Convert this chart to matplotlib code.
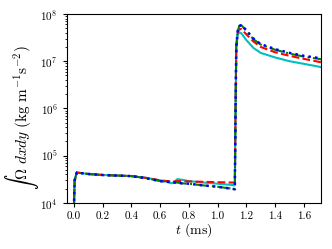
import numpy as np
import matplotlib
matplotlib.use("Agg")
import matplotlib.pyplot as plt

plt.rcParams['font.family'] = 'serif'
plt.rcParams['font.serif'] = ['cmr10']
plt.rcParams['mathtext.fontset'] = 'cm'
plt.rcParams['axes.formatter.use_mathtext'] = True
plt.rcParams['font.size'] = 10

t = [0.0, 0.005, 0.02, 0.1, 0.2, 0.3, 0.4, 0.5, 0.6, 0.65, 0.68, 0.7, 0.72,
     0.75, 0.8, 0.9, 1.0, 1.1, 1.12, 1.125, 1.13, 1.14, 1.15, 1.165, 1.2,
     1.25, 1.3, 1.4, 1.5, 1.6, 1.72]

cyan = [8e3, 3e4, 4.4e4, 4.1e4, 3.9e4, 3.8e4, 3.7e4, 3.4e4, 3.0e4, 2.8e4,
        2.6e4, 2.8e4, 3.2e4, 3.1e4, 2.9e4, 2.7e4, 2.55e4, 2.4e4, 2.35e4,
        1e6, 2e7, 3.6e7, 4.1e7, 3.9e7, 2.8e7, 1.9e7, 1.5e7, 1.2e7, 1.0e7,
        8.8e6, 7.5e6]
red = [8e3, 3e4, 4.4e4, 4.1e4, 3.9e4, 3.8e4, 3.7e4, 3.4e4, 3.0e4, 2.9e4,
       2.85e4, 2.85e4, 2.9e4, 2.9e4, 2.85e4, 2.8e4, 2.75e4, 2.7e4, 2.7e4,
       1e6, 2e7, 4e7, 4.7e7, 4.8e7, 3.7e7, 2.6e7, 2.0e7, 1.55e7, 1.3e7,
       1.12e7, 9.5e6]
green = [8e3, 3e4, 4.4e4, 4.1e4, 3.9e4, 3.8e4, 3.7e4, 3.35e4, 2.9e4, 2.8e4,
         2.75e4, 2.7e4, 2.7e4, 2.6e4, 2.55e4, 2.35e4, 2.2e4, 2.0e4, 1.95e4,
         1e6, 2e7, 4.4e7, 5.4e7, 5.8e7, 4.4e7, 2.9e7, 2.25e7, 1.75e7, 1.45e7,
         1.25e7, 1.1e7]
blue = [8e3, 3e4, 4.4e4, 4.1e4, 3.9e4, 3.8e4, 3.7e4, 3.35e4, 2.9e4, 2.8e4,
        2.75e4, 2.7e4, 2.7e4, 2.6e4, 2.55e4, 2.35e4, 2.2e4, 2.0e4, 1.95e4,
        1e6, 2e7, 4.5e7, 5.5e7, 5.9e7, 4.5e7, 3.0e7, 2.3e7, 1.8e7, 1.5e7,
        1.3e7, 1.15e7]
xticks = [0.0, 0.2, 0.4, 0.6, 0.8, 1.0, 1.2, 1.4, 1.6]

fig = plt.figure(figsize=(3.32, 2.49), dpi=100)
ax = fig.add_axes([0.201, 0.185, 0.766, 0.759])

ax.plot(t, cyan, color='c', ls='-', lw=1.5)
ax.plot(t, red, color='r', ls='--', lw=1.5)
ax.plot(t, green, color='g', ls='-.', lw=1.5)
ax.plot(t, blue, color='b', ls=':', lw=1.8)

ax.set_yscale('log')
ax.set_ylim(1e4, 1e8)
ax.set_xlim(-0.05, 1.72)
ax.set_xticks(xticks)
ax.set_xticklabels(['%.1f' % v for v in xticks])
ax.tick_params(labelsize=8, length=3)
ax.tick_params(which='minor', length=1.5)
ax.set_xlabel(r'$t\ \mathrm{(ms)}$', fontsize=10, labelpad=0)
ax.set_ylabel(r'$\int\,\Omega\ dxdy\ (\mathrm{kg\ m^{-1}s^{-2}})$', fontsize=11)
ax.yaxis.set_label_coords(-0.10, 0.45)

fig.savefig('out.png', dpi=100)
